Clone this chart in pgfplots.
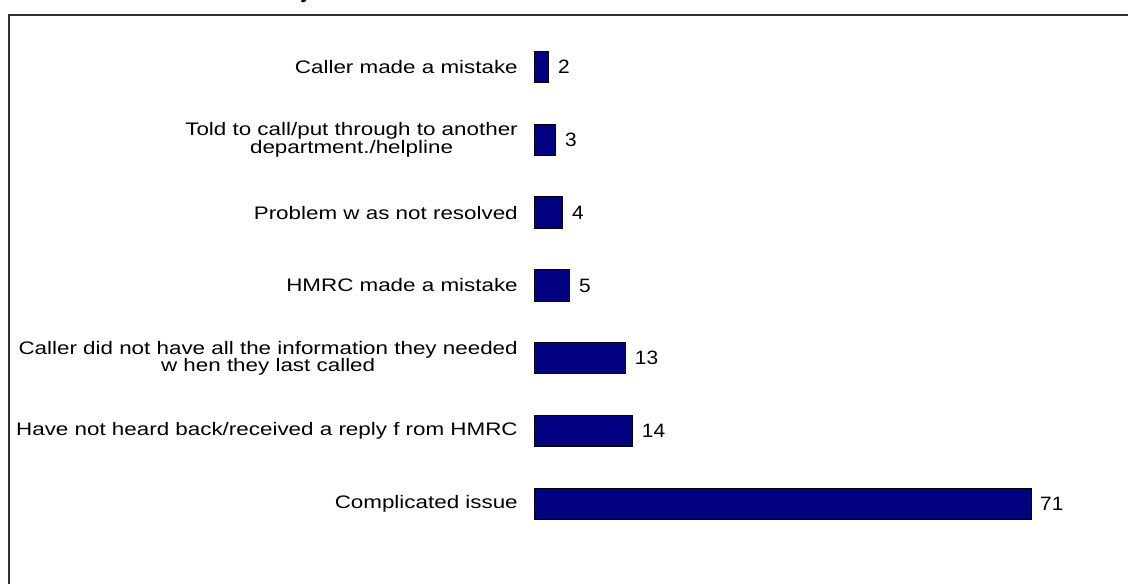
\documentclass[border=0pt]{standalone}
\usepackage{pgfplots}
\pgfplotsset{compat=1.18}
\usepackage{fontspec}
\setmainfont{Liberation Sans}
\newfontfamily\lab[FakeStretch=1.235]{Liberation Sans}
\newfontfamily\val[FakeStretch=1.08]{Liberation Sans}
\definecolor{barblue}{RGB}{0,0,128}
\begin{document}
\begin{tikzpicture}
\useasboundingbox (0,0) rectangle (846pt,-437.25pt);
\draw[line width=1.1pt, black!80] (6.75pt,-440pt) -- (6.75pt,-11.25pt) -- (850pt,-11.25pt);
\node[anchor=base, inner sep=0pt, font=\bfseries\fontsize{15}{18}\selectfont] at (229.5pt,1.5pt) {y};
\begin{axis}[
  at={(401.25pt,-405.3pt)}, anchor=south west,
  scale only axis, width=419.2pt, height=382.4pt,
  xmin=0, xmax=80, ymin=-0.5, ymax=6.5,
  xbar, bar width=0.43,
  axis line style={draw=none},
  xtick=\empty,
  ytick={0,...,6},
  yticklabels={Complicated issue,
    Have not heard back/received a reply f rom HMRC,
    {Caller did not have all the information they needed\\w hen they last called},
    HMRC made a mistake,
    Problem w as not resolved,
    {Told to call/put through to another\\department./helpline},
    Caller made a mistake},
  major tick length=0pt,
  yticklabel style={align=center, anchor=east, inner sep=0pt, xshift=-12.75pt,
    font=\lab\fontsize{13.6}{13.3}\selectfont},
  /pgf/number format/assume math mode=true,
  nodes near coords,
  every node near coord/.append style={anchor=west, inner sep=0pt, xshift=6.5pt,
    font=\val\fontsize{14.5}{16}\selectfont},
  clip=false,
]
\addplot[fill=barblue, draw=black, line width=0.75pt] coordinates {
  (71,0) (14,1) (13,2) (5,3) (4,4) (3,5) (2,6)
};
\end{axis}
\end{tikzpicture}
\end{document}
